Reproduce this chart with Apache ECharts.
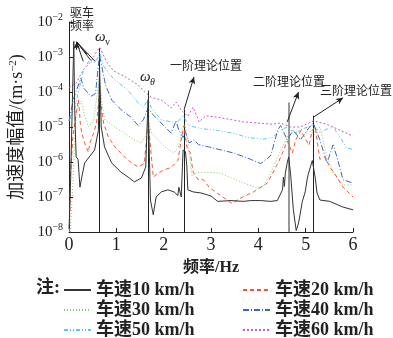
<!DOCTYPE html>
<html>
<head>
<meta charset="utf-8">
<script src="https://cdn.jsdelivr.net/npm/echarts@6/dist/echarts.min.js"></script>
<style>
html, body { margin: 0; padding: 0; background: #fff; }
#chart { width: 393px; height: 338px; }
</style>
</head>
<body>
<div id="chart"></div>
<script>
// 频率(Hz), 加速度幅值(m/s^2)
var s10 = [[0,1.2e-8],[0.03,2e-7],[0.07,5e-5],[0.1,2.8e-3],[0.12,3e-5],[0.15,1.4e-6],[0.19,1.2e-6],[0.21,5e-7],[0.23,1.9e-7],[0.27,3.7e-7],[0.33,9.4e-7],[0.41,1.3e-6],[0.54,2.2e-6],[0.62,8e-6],[0.645,5e-4],[0.68,1e-5],[0.75,2.7e-6],[0.9,9.4e-7],[1.1,5.1e-7],[1.25,3.7e-7],[1.38,2.7e-7],[1.53,3.5e-7],[1.62,7.2e-7],[1.67,6e-5],[1.72,8.2e-8],[1.78,3.1e-8],[1.84,1e-7],[1.95,1.4e-7],[2.09,1.6e-7],[2.22,1.4e-7],[2.3,1.1e-7],[2.32,1.9e-7],[2.37,1e-7],[2.41,2.2e-6],[2.43,2.5e-6],[2.46,2e-6],[2.49,7.2e-7],[2.51,1.6e-7],[2.62,1.4e-7],[2.79,1.3e-7],[3.0,1.07e-7],[3.14,7.5e-8],[3.42,7.9e-8],[3.69,7.5e-8],[3.84,7.9e-8],[4.05,7.9e-8],[4.26,7.5e-8],[4.4,7.9e-8],[4.51,1.6e-7],[4.53,3.7e-7],[4.55,2e-7],[4.57,4.8e-7],[4.61,9.4e-7],[4.64,1.4e-6],[4.68,4.8e-7],[4.74,4.3e-8],[4.8,1.1e-8],[4.85,1.8e-8],[4.93,7.5e-8],[4.99,1.4e-7],[5.03,3.1e-7],[5.05,4.3e-7],[5.1,7.2e-7],[5.14,1.1e-6],[5.2,3.7e-7],[5.24,1.3e-7],[5.3,8.2e-8],[5.51,7.5e-8],[5.78,5.2e-8],[6.0,4.3e-8]];
var s20 = [[0.01,1e-8],[0.03,4e-7],[0.08,5e-6],[0.14,2e-5],[0.2,6e-5],[0.24,1.2e-5],[0.27,6.7e-6],[0.33,3.5e-6],[0.41,1.9e-6],[0.44,3.5e-6],[0.52,6.7e-6],[0.58,1.3e-5],[0.645,9e-5],[0.73,1.3e-5],[0.83,5.2e-6],[0.97,2.7e-6],[1.17,1.4e-6],[1.32,9.4e-7],[1.46,7.2e-7],[1.59,9e-7],[1.67,1.5e-5],[1.78,3.7e-7],[1.88,4.8e-7],[2.0,5.9e-7],[2.16,7e-7],[2.3,1.1e-6],[2.37,4.3e-6],[2.43,1.1e-5],[2.5,2.2e-6],[2.56,1.9e-6],[2.62,5.2e-7],[2.73,3.1e-7],[2.84,3.1e-7],[2.96,1.9e-7],[3.2,1.1e-7],[3.45,6.5e-8],[3.6,9e-8],[3.9,1.4e-7],[4.19,2.5e-7],[4.41,9e-7],[4.51,1.8e-6],[4.61,4e-6],[4.72,1.8e-6],[4.79,4.3e-6],[4.9,8e-6],[4.96,5.5e-6],[5.07,3e-6],[5.14,8e-6],[5.2,1e-5],[5.3,1.2e-6],[5.41,1.4e-6],[5.51,7.2e-7],[5.66,3.7e-7],[5.79,1.9e-7],[6.0,1e-7]];
var s30 = [[0.03,1e-8],[0.1,1e-6],[0.15,3e-5],[0.27,5.5e-5],[0.31,2.5e-5],[0.41,1e-5],[0.52,1.5e-5],[0.59,8e-5],[0.645,2.5e-4],[0.7,4e-5],[0.76,1.6e-5],[0.97,1e-5],[1.17,6.7e-6],[1.38,4.3e-6],[1.53,3.5e-6],[1.63,6e-6],[1.67,1.6e-5],[1.74,6.7e-6],[1.89,4.3e-6],[2.02,2.7e-6],[2.22,1.8e-6],[2.33,3e-6],[2.4,1e-5],[2.45,1.2e-5],[2.52,3e-6],[2.6,4e-7],[2.7,5e-7],[2.86,5.1e-7],[3.2,4.8e-7],[3.63,2.7e-7],[3.98,1.8e-7],[4.1,2e-7],[4.26,4.8e-7],[4.41,1.4e-6],[4.51,2.7e-6],[4.61,5.2e-6],[4.68,8e-6],[4.74,6.7e-6],[4.85,8e-6],[4.95,5e-6],[5.05,8e-6],[5.16,6.7e-6],[5.3,1e-5],[5.41,2.2e-6],[5.58,4.8e-7],[5.79,2.2e-7],[6.0,2.2e-7]];
var s40 = [[0,1.5e-5],[0.1,6.8e-5],[0.25,2.5e-4],[0.31,1.3e-4],[0.46,7.5e-5],[0.56,9e-5],[0.62,5.9e-4],[0.645,1.1e-3],[0.77,1.6e-4],[0.9,5.9e-5],[1.1,3.1e-5],[1.31,1.9e-5],[1.46,1.1e-5],[1.57,1.6e-5],[1.67,3.5e-5],[1.78,2.2e-5],[1.89,1.6e-5],[2.02,1e-5],[2.16,6.7e-6],[2.26,1.5e-5],[2.32,8e-6],[2.41,5e-6],[2.45,8e-6],[2.54,3.5e-6],[2.64,4.3e-6],[2.74,3.1e-6],[2.95,2.7e-6],[3.48,1.8e-6],[3.77,1.3e-6],[4.05,9e-7],[4.26,1.5e-6],[4.41,8.2e-6],[4.47,1.1e-5],[4.61,4.3e-6],[4.74,8.2e-6],[4.89,4.3e-6],[5.03,8.2e-6],[5.16,1.3e-5],[5.3,4.3e-6],[5.45,9.4e-7],[5.58,3.1e-6],[5.66,1.4e-6],[5.79,3.1e-7],[6.0,2.5e-7]];
var s50 = [[0,1.5e-5],[0.12,3.5e-5],[0.3,4e-4],[0.42,7.7e-4],[0.52,6.7e-4],[0.62,1e-3],[0.645,1.4e-3],[0.73,5.5e-4],[0.94,2.4e-4],[1.25,1.1e-4],[1.46,4.9e-5],[1.57,3.7e-5],[1.67,6e-5],[1.74,3.5e-5],[1.95,1.6e-5],[2.16,1.4e-5],[2.3,1.4e-5],[2.41,2.2e-5],[2.52,1.1e-5],[2.79,9e-6],[3.14,8e-6],[3.5,6.5e-6],[3.77,5e-6],[4.1,4.5e-6],[4.3,5e-6],[4.47,8.2e-6],[4.61,1e-5],[4.78,6.7e-6],[4.95,9e-6],[5.14,1.1e-5],[5.3,7e-6],[5.47,9e-6],[5.58,1e-5],[5.73,5e-6],[5.87,2.5e-6],[6.0,2.3e-6]];
var s60 = [[0,1.3e-4],[0.15,1.8e-4],[0.3,4.3e-4],[0.45,7e-4],[0.58,1.4e-3],[0.645,1.9e-3],[0.8,7e-4],[0.94,4e-4],[1.17,2.8e-4],[1.46,1.6e-4],[1.6,1e-4],[1.74,7e-5],[1.95,5.9e-5],[2.16,3.5e-5],[2.26,5.2e-5],[2.37,3.1e-5],[2.51,2e-5],[2.62,3.7e-5],[2.75,1.4e-5],[2.89,2.1e-5],[3.14,1.9e-5],[3.69,1.4e-5],[4.3,1.2e-5],[4.47,1.3e-5],[4.68,1e-5],[4.89,1e-5],[5.16,1.5e-5],[5.45,1.2e-5],[5.73,8e-6],[6.0,5.5e-6]];

var names = ['车速10 km/h', '车速20 km/h', '车速30 km/h', '车速40 km/h', '车速50 km/h', '车速60 km/h'];
var colors = ['#333333', '#f0583a', '#8cc870', '#3d66c4', '#5cc8e6', '#c45ccc'];
var dashes = ['solid', [4, 3], [1, 2], [6, 2, 1, 2], [4, 2, 1, 2, 1, 2], [2, 2]];

// 特征频率 [频率, 竖线顶端幅值]
var marks = [[0.645, 1.8e-3], [1.67, 1.1e-4], [2.43, 3.1e-5], [5.17, 2.1e-5]];
var mark2 = [4.65, 5e-5];
// 箭头 [起点, 终点]
var arrows = [
  [[2.43, 3.1e-5], [2.64, 2.7e-4]],
  [[4.61, 1.4e-5], [4.85, 1.0e-4]],
  [[5.16, 1.9e-5], [5.79, 6.8e-5]]
];
// 驱车频率引线
var driveApex = [0.16, 2.7e-3];
var driveEnds = [[0.3, 7.5e-4], [0.38, 1.2e-3], [0.46, 8e-4], [0.55, 7.5e-4]];

var FONT = "'Liberation Serif', 'Noto Sans CJK SC', serif";
var chart = echarts.init(document.getElementById('chart'));

var lines = [];
marks.forEach(function (m) {
  lines.push([{ coord: [m[0], 1e-8] }, { coord: [m[0], m[1]] }]);
});
lines.push([{ coord: [mark2[0], 1e-8], lineStyle: { color: '#999', width: 2 } }, { coord: [mark2[0], mark2[1]] }]);
driveEnds.forEach(function (e) {
  lines.push([{ coord: driveApex, symbol: 'none' }, { coord: e, symbol: 'none' }]);
});
var arrowLines = arrows.map(function (a) {
  return [{ coord: a[0], symbol: 'none' }, { coord: a[1], symbol: 'arrow' }];
});
arrowLines.push([{ coord: [driveApex[0], 1.6e-3], symbol: 'none' }, { coord: driveApex, symbol: 'arrow' }]);

var series = [s10, s20, s30, s40, s50, s60].map(function (d, i) {
  return {
    name: names[i],
    type: 'line',
    data: d,
    symbol: 'none',
    z: 10 - i,
    lineStyle: { color: colors[i], width: 1, type: dashes[i] },
    itemStyle: { color: colors[i] }
  };
});
series[0].markLine = {
  silent: true,
  symbol: 'none',
  animation: false,
  label: { show: false },
  lineStyle: { color: '#222', width: 1, type: 'solid' },
  data: lines
};
series[1].markLine = {
  silent: true,
  symbolSize: [5, 7],
  animation: false,
  label: { show: false },
  lineStyle: { color: '#222', width: 1, type: 'solid' },
  data: arrowLines
};

function txt(x, y, s, size, extra) {
  var st = { text: s, font: (extra || '') + ' ' + size + 'px ' + FONT, fill: '#222' };
  return { type: 'text', left: x, top: y, style: st };
}

// 图例: 两列三行
var legendPos = [[58, 276], [237, 276], [58, 296], [237, 296], [58, 316], [237, 316]];
var legends = names.map(function (n, i) {
  return {
    data: [n], left: legendPos[i][0], top: legendPos[i][1],
    itemWidth: 27, itemHeight: 8, selectedMode: false,
    itemStyle: { opacity: 0 },
    textStyle: { fontFamily: FONT, fontSize: 18, fontWeight: 'bold', color: '#222' }
  };
});

chart.setOption({
  animation: false,
  grid: { left: 67, right: 40, top: 22, bottom: 106 },
  xAxis: {
    type: 'value', min: 0, max: 6, interval: 1,
    name: '频率/Hz', nameLocation: 'middle', nameGap: 28,
    nameTextStyle: { fontFamily: FONT, fontSize: 16, fontWeight: 'bold', color: '#222' },
    axisLine: { lineStyle: { color: '#222' } },
    axisTick: { inside: true, length: 4, lineStyle: { color: '#222' } },
    axisLabel: { fontFamily: FONT, fontSize: 18, color: '#222', margin: 4 },
    splitLine: { show: false }
  },
  yAxis: {
    type: 'log', logBase: 10, min: 1e-8, max: 1e-2, splitNumber: 6,
    name: '加速度幅值/(m·s{s|−2})', nameLocation: 'middle', nameGap: 32, nameRotate: 90,
    nameTextStyle: { fontFamily: FONT, fontSize: 18, color: '#222', rich: { s: { fontSize: 11, fontFamily: FONT, padding: [0, 0, 8, 0] } } },
    axisLine: { show: true, lineStyle: { color: '#222' } },
    axisTick: { inside: true, length: 4, lineStyle: { color: '#222' } },
    minorTick: { show: false },
    axisLabel: {
      fontFamily: FONT, fontSize: 15, color: '#222', margin: 6,
      formatter: function (v) { return '10{s|' + Math.round(Math.log10(v)).toString().replace('-', '−') + '}'; },
      rich: { s: { fontSize: 10, fontFamily: FONT, color: '#222', padding: [0, 0, 9, 0] } }
    },
    splitLine: { show: false }
  },
  legend: legends,
  graphic: [
    txt(36, 279, '注:', 18, 'bold'),
    txt(70, 8, '驱车', 12),
    txt(70, 21, '频率', 12),
    txt(95, 30, 'ω', 15, 'italic'),
    txt(105, 37, 'v', 10),
    txt(140, 70, 'ω', 15, 'italic'),
    txt(150, 77, 'θ', 10, 'italic'),
    txt(170, 61, '一阶理论位置', 12),
    txt(253, 77, '二阶理论位置', 12),
    txt(320, 86, '三阶理论位置', 12)
  ],
  series: series
});
</script>
</body>
</html>
